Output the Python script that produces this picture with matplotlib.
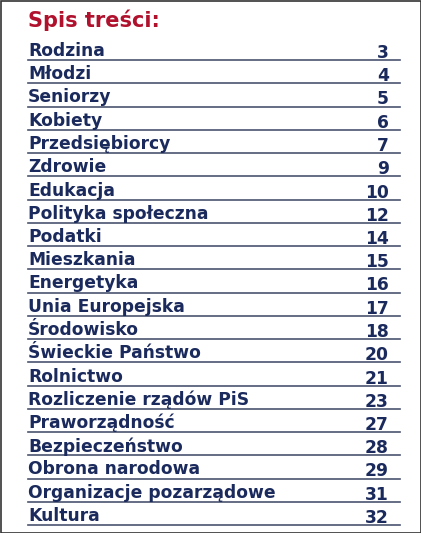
import matplotlib
matplotlib.use("Agg")
import matplotlib.pyplot as plt
from matplotlib.patches import Rectangle

title = "Spis treści:"
sections = ["Rodzina", "Młodzi", "Seniorzy", "Kobiety", "Przedsiębiorcy", "Zdrowie",
            "Edukacja", "Polityka społeczna", "Podatki", "Mieszkania", "Energetyka",
            "Unia Europejska", "Środowisko", "Świeckie Państwo", "Rolnictwo",
            "Rozliczenie rządów PiS", "Praworządność", "Bezpieczeństwo",
            "Obrona narodowa", "Organizacje pozarządowe", "Kultura"]
pages = [3, 4, 5, 6, 7, 9, 10, 12, 14, 15, 16, 17, 18, 20, 21, 23, 27, 28, 29, 31, 32]

W, H = 421, 533
fig = plt.figure(figsize=(W/100, H/100), dpi=100)
ax = fig.add_axes([0, 0, 1, 1])
ax.set_xlim(0, W)
ax.set_ylim(H, 0)
ax.axis("off")
ax.add_patch(Rectangle((0.5, 0.5), W-1, H-1, fill=False, edgecolor="#333333", lw=1.2))

navy = "#1b2a5c"
ax.text(28, 20, title, color="#b0122e", fontsize=15, fontweight="bold",
        family="DejaVu Sans", va="center", ha="left")
y0, dy = 51, 23.25
for i, (s, p) in enumerate(zip(sections, pages)):
    y = y0 + i * dy
    ax.text(28, y, s, color=navy, fontsize=12.3, fontweight="bold", family="DejaVu Sans",
            va="center", ha="left")
    ax.text(389, y + 2, str(p), color=navy, fontsize=12.3, fontweight="bold",
            family="DejaVu Sans", va="center", ha="right")
    ax.plot([28, 400], [y + 9, y + 9], color="#4a5470", lw=1.2)

fig.savefig("out.png", dpi=100)
